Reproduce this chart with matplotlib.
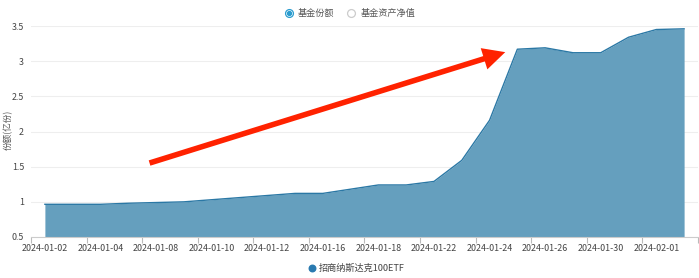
import numpy as np
import matplotlib.pyplot as plt

plt.rcParams['font.family'] = ['Noto Sans CJK SC', 'DejaVu Sans']

# 交易日与基金份额（亿份）
dates = ['2024-01-02', '2024-01-03', '2024-01-04', '2024-01-05', '2024-01-08', '2024-01-09',
         '2024-01-10', '2024-01-11', '2024-01-12', '2024-01-15', '2024-01-16', '2024-01-17',
         '2024-01-18', '2024-01-19', '2024-01-22', '2024-01-23', '2024-01-24', '2024-01-25',
         '2024-01-26', '2024-01-29', '2024-01-30', '2024-01-31', '2024-02-01', '2024-02-02']
shares = [0.965, 0.965, 0.965, 0.98, 0.99, 1.00,
          1.03, 1.06, 1.09, 1.12, 1.12, 1.18,
          1.24, 1.24, 1.29, 1.59, 2.16, 3.17,
          3.19, 3.12, 3.12, 3.34, 3.45, 3.46]
yticks = [0.5, 1, 1.5, 2, 2.5, 3, 3.5]
series_name = '招商纳斯达克100ETF'

W, H = 699, 278
fig = plt.figure(figsize=(W / 100, H / 100), dpi=100)
ax = fig.add_axes([31 / W, 1 - 237 / H, 667 / W, 211 / H])

x = np.arange(len(dates))
ax.fill_between(x, shares, 0, color='#659fbe', lw=0)
ax.plot(x, shares, color='#2b78a5', lw=1.0)

ax.set_xlim(-0.5, len(dates) - 0.5)
ax.set_ylim(0.5, 3.5)
ax.set_yticks(yticks)
ax.set_yticklabels(['%g' % v for v in yticks])
ax.set_xticks(x[::2])
ax.set_xticklabels(dates[::2])
ax.set_xticks(np.arange(-0.5, len(dates), 2), minor=True)
ax.tick_params(axis='x', which='major', length=0, pad=5, labelsize=6.4, labelcolor='#444444')
ax.tick_params(axis='x', which='minor', length=4, color='#bbbbbb', width=0.8)
ax.tick_params(axis='y', length=0, pad=5, labelsize=6.4, labelcolor='#444444')
ax.grid(axis='y', color='#eeeeee', lw=0.8)
ax.set_axisbelow(True)
for s in ['top', 'right', 'left']:
    ax.spines[s].set_visible(False)
ax.spines['bottom'].set_color('#cccccc')
ax.spines['bottom'].set_zorder(5)

# 红色箭头
ax.annotate('', xy=(16.66, 3.14), xytext=(3.67, 1.54),
            arrowprops=dict(arrowstyle='simple,head_length=0.8,head_width=0.8,tail_width=0.2',
                            mutation_scale=20, color='#ff2200', lw=0))

# 图例与轴标题（像素坐标叠加层）
ov = fig.add_axes([0, 0, 1, 1], facecolor='none')
ov.set_xlim(0, W)
ov.set_ylim(H, 0)
ov.axis('off')
ov.scatter([289], [13], s=32, facecolor='white', edgecolor='#2a9ccf', lw=0.9)
ov.scatter([289], [13], s=8, color='#2a9ccf')
ov.text(298, 13, '基金份额', fontsize=6.6, color='#555555', va='center')
ov.scatter([351], [13], s=32, facecolor='white', edgecolor='#cccccc', lw=0.9)
ov.text(361, 13, '基金资产净值', fontsize=6.6, color='#555555', va='center')
ov.scatter([312], [268], s=22, color='#2a7ab0')
ov.text(319, 268, series_name, fontsize=6.6, color='#444444', va='center')
ov.text(8, 130, '份额(亿份)', fontsize=6.2, color='#555555', rotation=90, va='center', ha='center')

fig.savefig('out.png', dpi=100)
